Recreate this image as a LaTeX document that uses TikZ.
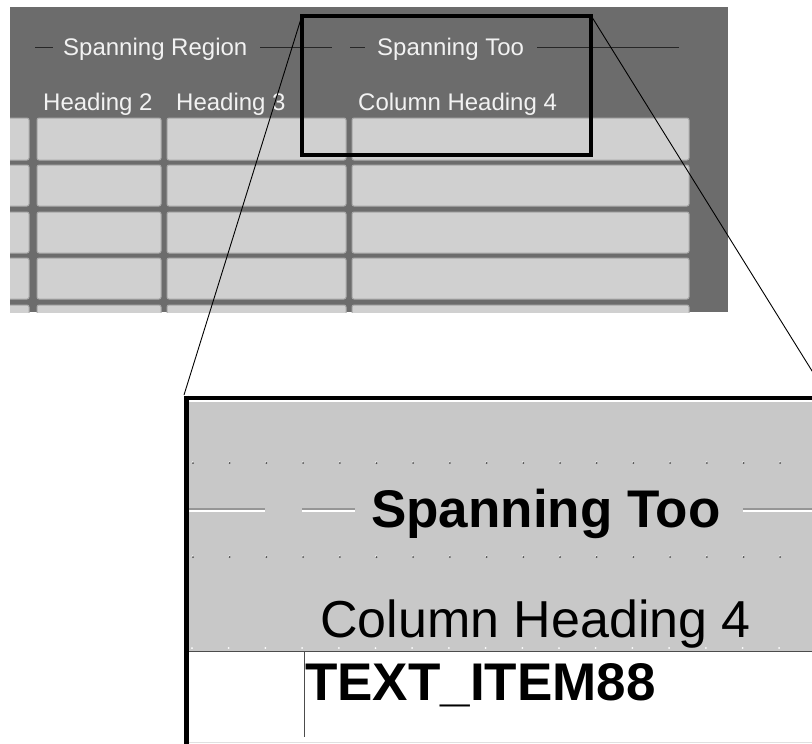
\documentclass[tikz,border=0pt]{standalone}
\usepackage{fontspec}
\setmainfont{Liberation Sans}
\definecolor{panelgray}{HTML}{6C6C6C}
\definecolor{cellgray}{HTML}{D0D0D0}
\definecolor{celledge}{HTML}{A8A8A8}
\definecolor{zoomgray}{HTML}{C8C8C8}
\definecolor{etchgray}{HTML}{969696}
\definecolor{dotgray}{HTML}{505050}
\definecolor{sepgray}{HTML}{4C4C4C}
\definecolor{toptext}{HTML}{F2F2F2}
\tikzset{
  toplabel/.style={anchor=base west,inner sep=0pt,text=toptext,font=\fontsize{24}{28}\selectfont},
  bigbold/.style={anchor=base west,inner sep=0pt,text=black,font=\fontsize{53}{60}\selectfont\bfseries},
  bigreg/.style={anchor=base west,inner sep=0pt,text=black,font=\fontsize{52}{60}\selectfont},
  cellbox/.style={fill=cellgray,draw=celledge,line width=1pt,rounded corners=2pt},
  headline/.style={draw=black!85,line width=0.9pt},
  zoomline/.style={draw=black,line width=0.9pt},
}
\begin{document}
\begin{tikzpicture}[x=1pt,y=-1pt]
\useasboundingbox (0,0) rectangle (812,744);
\clip (0,0) rectangle (812,744);
% ---------- top panel ----------
\begin{scope}
\clip (10,7) rectangle (728,312);
\fill[panelgray] (10,7) rectangle (728,312);
\foreach \ya/\yb in {118/160,165/206,212/253,258/299,305/346}{
  \foreach \xa/\xb in {-10/29,37/161,167/346,352/689}{
    \path[cellbox] (\xa,\ya) rectangle (\xb,\yb);
  }
}
\end{scope}
\node[toplabel] (sr) at (63,56) {Spanning Region};
\node[toplabel] (st) at (377,56) {Spanning Too};
\node[toplabel] (h2) at (43,110) {Heading 2};
\node[toplabel] (h3) at (176,110) {Heading 3};
\node[toplabel] (h4) at (358,110) {Column Heading 4};
\draw[headline] (35,47) -- (53,47);
\draw[headline] (260,47) -- (332,47);
\draw[headline] (350,47) -- (365,47);
\draw[headline] (537,47) -- (679,47);
% focus box
\coordinate (boxnw) at (302,15.5);
\coordinate (boxse) at (591,155);
\coordinate (boxne) at (591,15.5);
\draw[line width=4pt] (boxnw) rectangle (boxse);
% ---------- zoomed panel ----------
\coordinate (pnlnw) at (184,395);
\coordinate (pnlne) at (827,395);
\fill[zoomgray] (189,400) rectangle (830,651);
\draw[white,line width=1.2pt] (189,401) -- (830,401);
\foreach \r in {463,557}{
  \foreach \k in {0,...,17}{
    \fill[white] (192.6+36.7*\k,\r-0.8) circle (0.9);
    \fill[dotgray] (193+36.7*\k,\r) circle (1.0);
  }
}
\foreach \k in {0,...,17}{
  \fill[white] (192+36.7*\k,648) circle (1.0);
}
% etched rules beside the heading
\foreach \xa/\xb in {189/265,302/355,743/830}{
  \draw[etchgray,line width=1.6pt] (\xa,509) -- (\xb,509);
  \draw[white,line width=1.4pt] (\xa,511) -- (\xb,511);
}
\node[bigbold] (spt) at (371,527) {Spanning Too};
\node[bigreg] (ch4) at (320,637) {Column Heading 4};
\draw[sepgray,line width=1.6pt] (189,651.5) -- (830,651.5);
\node[bigbold] (ti) at (305,700) {TEXT\_ITEM88};
\draw[black!70,line width=1pt] (304,652) -- (304,737);
\draw[black!12,line width=1pt] (189,742.5) -- (830,742.5);
\draw[line width=4pt] (184,397.5) -- (830,397.5);
\draw[line width=5pt] (186.5,395.5) -- (186.5,744);
% connectors from focus box to zoomed panel
\draw[zoomline] (boxnw) -- (pnlnw);
\draw[zoomline] (boxne) -- (pnlne);
\end{tikzpicture}
\end{document}
